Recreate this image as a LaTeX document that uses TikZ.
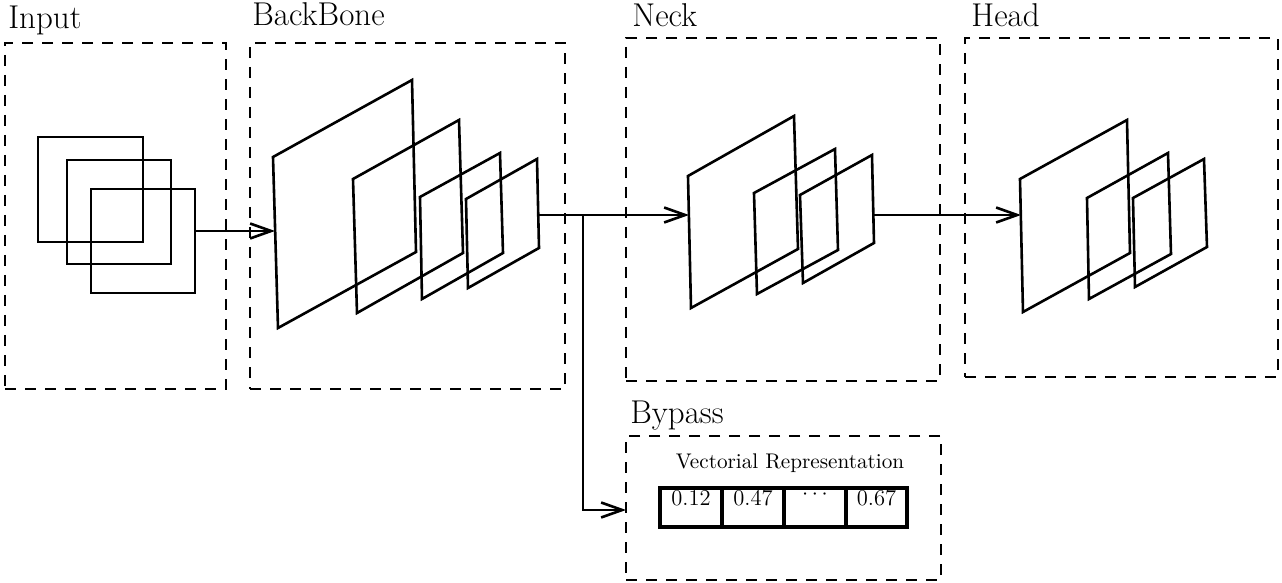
\documentclass[tikz,border=0pt]{standalone}
\usetikzlibrary{arrows.meta,fit}
\begin{document}
\begin{tikzpicture}[x=0.5pt,y=-0.5pt,
  stagebox/.style={draw, line width=1.35pt, dash pattern=on 5.5pt off 4.5pt, inner sep=0pt},
  stagelabel/.style={anchor=base west, inner sep=0pt, font=\fontsize{16.5}{19}\selectfont},
  fmap/.style={line width=1.3pt, line join=miter},
  wire/.style={line width=1.3pt},
  flow/.style={wire, -{Straight Barb[length=10.5pt,width=7.5pt,line width=1.3pt]}},
  cellbox/.style={draw, line width=1.6pt, inner sep=0pt},
  val/.style={anchor=base, inner sep=0pt, font=\fontsize{11.3}{13}\selectfont}]
\useasboundingbox (0,0) rectangle (1282,583);

% stage frames
\node[stagebox, fit={(5,43) (226,389)}]   (input) {};
\node[stagebox, fit={(250,43) (565,389)}] (backbone) {};
\node[stagebox, fit={(626,38) (940,381)}] (neck) {};
\node[stagebox, fit={(965,38) (1278,377)}] (head) {};
\node[stagebox, fit={(626,436) (941,580)}] (bypass) {};

% stage titles
\node[stagelabel] (tInput)    at (8,29)    {Input};
\node[stagelabel] (tBackbone) at (252,26)  {BackBone};
\node[stagelabel] (tNeck)     at (632,27)  {Neck};
\node[stagelabel] (tHead)     at (971,27)  {Head};
\node[stagelabel] (tBypass)   at (630,423) {Bypass};

% input images
\draw[fmap] (38,137) rectangle (143,242);
\draw[fmap] (67,160) rectangle (171,264);
\draw[fmap] (91,189) rectangle (195,293);

% backbone feature maps
\draw[fmap] (273,157) -- (412,80)  -- (416,252) -- (278,328) -- cycle;
\draw[fmap] (353,179) -- (459,120) -- (463,253) -- (357,313) -- cycle;
\draw[fmap] (420,197) -- (500,153) -- (503,253) -- (422,299) -- cycle;
\draw[fmap] (466,199) -- (537,159) -- (539,248) -- (468,288) -- cycle;

% neck feature maps
\draw[fmap] (688,176) -- (794,116) -- (798,249) -- (691,308) -- cycle;
\draw[fmap] (754,193) -- (835,149) -- (838,250) -- (757,294) -- cycle;
\draw[fmap] (800,195) -- (872,155) -- (874,243) -- (803,283) -- cycle;

% head feature maps
\draw[fmap] (1020,179) -- (1127,120) -- (1130,253) -- (1023,312) -- cycle;
\draw[fmap] (1087,198) -- (1168,153) -- (1171,254) -- (1089,299) -- cycle;
\draw[fmap] (1133,198) -- (1204,159) -- (1207,247) -- (1135,287) -- cycle;

% ports of the feature maps
\coordinate (inOut)   at (195,231);
\coordinate (bbIn)    at (275,231);
\coordinate (bbOut)   at (538,215);
\coordinate (split)   at (583,215);
\coordinate (neckIn)  at (689,215);
\coordinate (neckOut) at (873,215);
\coordinate (headIn)  at (1021,215);
\coordinate (bend)    at (583,510);
\coordinate (bypIn)   at (626,510);

% data flow
\draw[flow] (inOut) -- (bbIn);
\draw[flow] (bbOut) -- (neckIn);
\draw[flow] (neckOut) -- (headIn);
\draw[flow] (split) -- (bend) -- (bypIn);

% vector representation
\node[anchor=base, inner sep=0pt, font=\fontsize{10.6}{12}\selectfont] (vecTitle) at (790,468) {Vectorial Representation};
\node[cellbox, fit={(660,488) (722,527)}] (c1) {};
\node[cellbox, fit={(722,488) (784,527)}] (c2) {};
\node[cellbox, fit={(784,488) (846,527)}] (c3) {};
\node[cellbox, fit={(846,488) (907,527)}] (c4) {};
\node[val] (v1) at ([yshift=-9.5pt]c1.north) {0.12};
\node[val] (v2) at ([yshift=-9.5pt]c2.north) {0.47};
\node[val, anchor=center] (v3) at ([yshift=-4pt]c3.north) {$\cdots$};
\node[val] (v4) at ([yshift=-9.5pt]c4.north) {0.67};
\end{tikzpicture}
\end{document}
